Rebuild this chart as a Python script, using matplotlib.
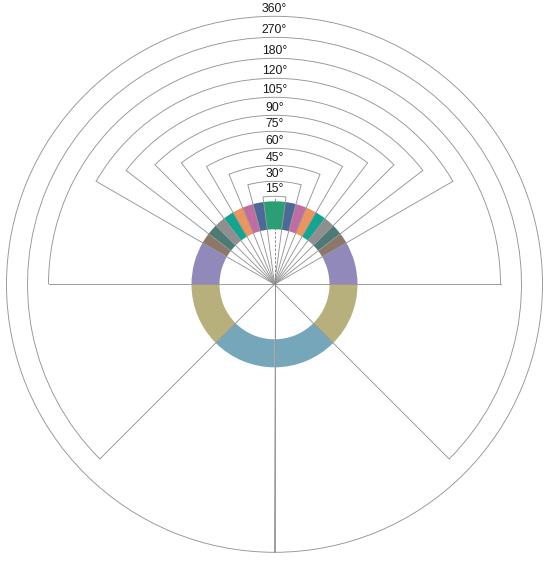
import matplotlib
matplotlib.use("Agg")
import matplotlib.pyplot as plt
from matplotlib.patches import Wedge, Arc
import numpy as np

# data
angles = [15, 30, 45, 60, 75, 90, 105, 120, 180, 270, 360]
labels = ["15°", "30°", "45°", "60°", "75°", "90°", "105°", "120°", "180°", "270°", "360°"]
colors = ["#27a074", "#4b6a98", "#c26ca4", "#eb9660", "#13a590", "#8f8f8f",
          "#4b7b74", "#8c7769", "#9189ba", "#b7af7c", "#76a6ba"]

# layout (pixels)
arc_radius = [88, 103, 119, 136, 153, 169, 187, 206, 226, 247, 268]
cx, cy = 274.5, 277.7
r_in, r_out = 55, 83
line_col = "#959595"

plt.rcParams['font.family'] = ['Liberation Sans', 'DejaVu Sans']
fig = plt.figure(figsize=(5.5, 5.62), dpi=100)
ax = fig.add_axes([0, 0, 1, 1])
ax.set_xlim(0, 550)
ax.set_ylim(0, 562)
ax.set_aspect('equal')
ax.axis('off')

def seg(t1, t2, col):
    ax.add_patch(Wedge((cx, cy), r_out, t1, t2, width=r_out - r_in,
                       facecolor=col, edgecolor='none', zorder=1))

prev_h = 0
for a, col in zip(angles, colors):
    h = a / 2
    if prev_h == 0:
        seg(90 - h, 90 + h, col)
    else:
        seg(90 - h, 90 - prev_h, col)
        seg(90 + prev_h, 90 + h, col)
    prev_h = h

for a, r, lab in zip(angles, arc_radius, labels):
    h = a / 2
    ax.add_patch(Arc((cx, cy), 2 * r, 2 * r, theta1=90 - h, theta2=90 + h,
                     color=line_col, lw=0.65, zorder=2))
    for t in (90 - h, 90 + h):
        tr = np.deg2rad(t)
        ax.plot([cx, cx + r * np.cos(tr)], [cy, cy + r * np.sin(tr)],
                color=line_col, lw=0.65, zorder=2)
    ax.text(cx, cy + r + 4, lab, ha='center', va='baseline', fontsize=8.8,
            color='#1a1a1a', zorder=3)

ax.plot([cx, cx], [cy, cy + arc_radius[0]], color='#777777', lw=0.6,
        ls=(0, (3, 2)), zorder=2)

fig.savefig("out.png", dpi=100)
